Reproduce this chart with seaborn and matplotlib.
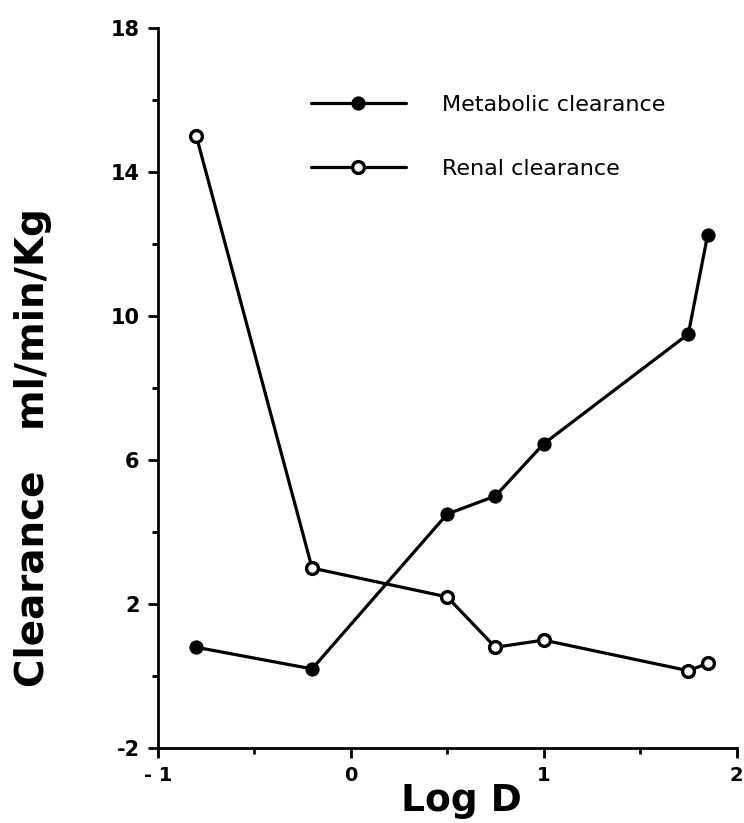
import pandas as pd
import numpy as np
import matplotlib
matplotlib.use("Agg")
import matplotlib.pyplot as plt
import seaborn as sns

log_d = [-0.8, -0.2, 0.5, 0.75, 1.0, 1.75, 1.85]
metabolic = [0.8, 0.2, 4.5, 5.0, 6.45, 9.5, 12.25]
renal = [15.0, 3.0, 2.2, 0.8, 1.0, 0.15, 0.35]

x_ticks = [-1, 0, 1, 2]
x_ticklabels = ["- 1", "0", "1", "2"]
y_ticks = [-2, 2, 6, 10, 14, 18]
y_ticklabels = ["-2", "2", "6", "10", "14", "18"]

df = pd.DataFrame({"logd": log_d, "metabolic": metabolic, "renal": renal})

sns.set_style("ticks")
plt.rcParams['font.family'] = ['DejaVu Sans']
plt.rcParams['text.color'] = 'black'
plt.rcParams['axes.labelcolor'] = 'black'
plt.rcParams['xtick.color'] = 'black'
plt.rcParams['ytick.color'] = 'black'

fig = plt.figure(figsize=(7.44, 8.23), dpi=100)
ax = fig.add_axes([0.212, 0.091, 0.778, 0.875])

sns.lineplot(data=df, x="logd", y="metabolic", ax=ax, color="black", lw=2.3,
             marker="o", markersize=9.5, markerfacecolor="black",
             markeredgecolor="black", label="Metabolic clearance")
sns.lineplot(data=df, x="logd", y="renal", ax=ax, color="black", lw=2.3,
             marker="o", markersize=8.5, markerfacecolor="white",
             markeredgecolor="black", markeredgewidth=2.4,
             label="Renal clearance")

ax.set_xlim(-1, 2)
ax.set_ylim(-2, 18)
ax.set_xticks(x_ticks)
ax.set_xticklabels(x_ticklabels, fontsize=14, fontweight="bold")
ax.set_xticks([-0.5, 0.5, 1.5], minor=True)
ax.set_yticks(y_ticks)
ax.set_yticklabels(y_ticklabels, fontsize=15, fontweight="bold")
ax.set_yticks([0, 4, 8, 12, 16], minor=True)
ax.tick_params(axis="both", which="major", length=7, width=2, pad=6)
ax.tick_params(axis="both", which="minor", length=4, width=2)

for s in ["top", "right"]:
    ax.spines[s].set_visible(False)
for s in ["left", "bottom"]:
    ax.spines[s].set_linewidth(2)
    ax.spines[s].set_color("black")

ax.set_xlabel("Log D", fontsize=27, fontweight="bold")
ax.xaxis.set_label_coords(0.525, -0.048)
ax.set_ylabel("Clearance   ml/min/Kg", fontsize=28, fontweight="bold")
ax.yaxis.set_label_coords(-0.183, 0.418)

leg = ax.legend(loc="upper left", bbox_to_anchor=(0.245, 0.923), frameon=False,
                fontsize=16, handlelength=4.3, handletextpad=1.6,
                labelspacing=2.0, borderpad=0, numpoints=1)

fig.savefig("out.png", dpi=100)
